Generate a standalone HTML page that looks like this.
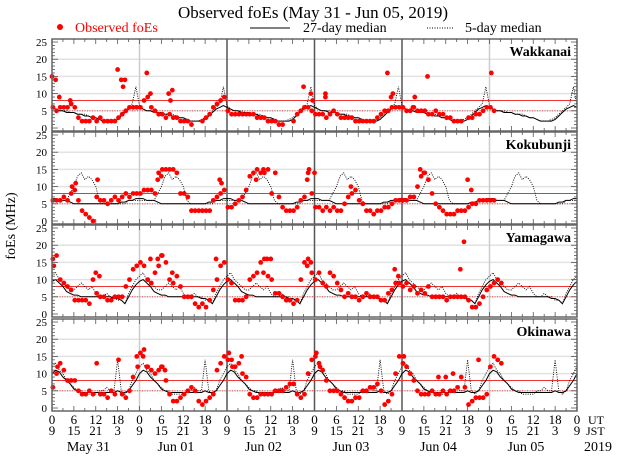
<!DOCTYPE html>
<html><head><meta charset="utf-8"><style>
body{margin:0;background:#fff;}
svg{display:block;font-family:"Liberation Serif",serif;}
</style></head><body>
<svg id="c" width="640" height="457" viewBox="0 0 640 457">
<text x="313" y="18" font-size="17" text-anchor="middle">Observed foEs (May 31 - Jun 05, 2019)</text>
<g>
<circle cx="60" cy="27" r="3" fill="#f00"/>
<text x="75" y="32" font-size="14" fill="#f00">Observed foEs</text>
<line x1="250" y1="28" x2="290" y2="28" stroke="#000" stroke-width="1"/>
<text x="303" y="32" font-size="14">27-day median</text>
<line x1="427" y1="28" x2="454" y2="28" stroke="#000" stroke-width="1" stroke-dasharray="1,1.5"/>
<text x="465" y="32" font-size="14">5-day median</text>
</g>
<text transform="translate(15,226) rotate(-90)" font-size="14" text-anchor="middle">foEs (MHz)</text>
<text x="588" y="424" font-size="12">UT</text>
<text x="586" y="435" font-size="12">JST</text>
<text x="598" y="451" font-size="14" text-anchor="middle">2019</text>
</svg>
<script>
const stations = ["Wakkanai","Kokubunji","Yamagawa","Okinawa"];
const dayLabels = ["May 31","Jun 01","Jun 02","Jun 03","Jun 04","Jun 05"];
const utTicks = [0,6,12,18];
const jstTicks = [9,15,21,3];
const yTicks = [0,5,10,15,20,25];

const obsWakkanai = [6,5,6,6,6,7,6,3,2,2,2,3,2,3,2,2,2,2,3,4,5,6,6,6,
6,8,9,6,5,4,4,3,4,3,3,2,2,2,1,null,null,2,3,4,6,7,8,9,
5,4,4,4,4,4,4,4,3,3,3,2,2,2,1,1,null,null,2,4,5,6,6,5,
4,4,4,3,4,5,4,3,3,3,3,2,2,2,2,2,2,3,4,5,5,6,6,6,
6,5,5,6,5,5,5,4,4,5,4,4,3,3,2,2,2,null,3,3,4,4,5,6,
6,5,null,null];
const spkWakkanai = [[0,15],[1,14],[2,9],[5,8],[18,17],[19,14],[20,14],[19.5,12],[26,16],[27,10],[32,10],[33,11],[32.5,8],[69,12],[71,10],[71.5,8],[75,10],[75,9],[92,16],[93,9],[93.5,10],[99,6],[99.5,9],[103,15],[120.5,16]];
const obsKokubunji = [6,6,6,7,6,8,9,6,3,2,1,0,7,6,6,5,6,7,6,7,8,7,8,8,
8,9,9,9,8,14,15,15,15,15,14,8,8,7,3,3,3,3,3,3,6,7,8,9,
4,4,5,6,7,9,13,14,15,14,14,15,8,14,7,4,3,3,3,4,6,7,14,8,
4,4,3,4,3,4,3,3,5,7,8,9,6,5,3,3,2,3,3,4,4,5,6,6,
6,6,7,7,10,13,14,12,8,5,4,3,2,2,2,3,3,3,4,5,5,6,6,6,
6,6,null,null];
const spkKokubunji = [[12.5,12],[5.5,10],[6.5,11],[46,12],[46.5,11],[29,12],[30,13],[56,12],[58,15],[70,12],[70.5,15],[72,14],[82,10],[101,15],[102,14],[114,12],[115,9]];
const obsYamagawa = [16,17,10,9,8,7,4,4,4,4,3,10,6,5,5,4,4,5,5,5,8,10,13,14,
15,14,10,9,12,14,17,15,10,9,11,8,5,5,5,3,2,3,2,4,7,10,14,15,
10,9,4,4,4,5,10,11,12,15,16,11,10,6,6,5,4,4,3,4,10,15,16,12,
10,12,9,8,12,11,9,7,5,6,5,5,4,5,6,5,5,5,4,4,6,7,9,9,
8,9,7,8,6,7,6,8,5,5,5,5,4,5,5,5,5,5,4,2,2,3,5,7,
8,9,10,9];
const spkYamagawa = [[0.5,14],[12,12],[13,11],[27,16],[29,16],[30,17],[33,12],[45,16],[58,12],[59,16],[60,16],[70,14],[71,15],[94,13],[95,11],[112,13],[113,21]];
const obsOkinawa = [6,10,13,11,8,8,8,5,4,4,5,4,13,4,4,3,5,4,14,4,3,5,9,15,
16,17,12,11,10,11,12,8,4,2,2,3,4,5,6,5,2,1,2,3,4,11,13,15,
14,14,12,13,10,9,4,3,3,4,4,4,4,5,5,5,6,7,7,4,3,4,10,14,
15,13,11,8,5,5,5,4,3,2,2,3,3,5,5,6,6,7,5,1,2,4,10,15,
13,12,10,8,5,4,4,4,5,4,4,5,4,5,5,6,9,6,1,2,3,3,3,4,
12,15,14,13];
const spkOkinawa = [[1.5,12],[23.5,12],[25,15],[26,12],[30,12],[31,11],[48.5,16],[49.5,12],[52,15],[72.5,16],[73.5,12],[96.5,15],[106,9],[108,9],[110,10],[117,14]];

const m27Wakkanai = [6,5.5,5,5,4.5,4.5,4.5,4,4,3.5,3.5,3,3,2.5,2,2,2,2,2.5,3.5,4.5,5.5,6,6.5];
const m5Wakkanai = [6.5,5.5,5,5,5,4.5,4.5,4,4,4,3.5,3,3,2.5,2,2,2,2.5,3,4,5,6,7,12];
const m27Kokubunji = [6.5,6.5,6,6,6,5.5,5,5,5,5,5,5,5,5,5,5,5,5,5,5.5,5.5,6,6,6.5];
const m5Kokubunji = [6,6,6,6,6,8,10,13,14,12,13,12,10,6,5,5,5,5,5,5,5,6,6,6];
const m27Yamagawa = [9.5,10,9,8,6.5,6,5.5,5.5,5,5,5,5,5,5,5,5,5,4.5,4.5,4,3,5,7,8.5];
const m5Yamagawa = [11,12,10,9,8,7,7,8,9,8,7,8,6,5,5,6,5,5,4,4,3,6,8,10];
const m27Okinawa = [10,11,10.5,9,8,7,5.5,5,4.5,4.5,4.5,4.5,4.5,4.5,4.5,4.5,4.5,4.5,5,4.5,4.5,5,6.5,8];
const m5Okinawa = [12,13,11,10,8,7,6,5,5,4,4,4,4,5,5,6,5,5,14,5,4,5,8,10];

const OBS=[obsWakkanai,obsKokubunji,obsYamagawa,obsOkinawa];
const SPK=[spkWakkanai,spkKokubunji,spkYamagawa,spkOkinawa];
const M27=[m27Wakkanai,m27Kokubunji,m27Yamagawa,m27Okinawa];
const M5=[m5Wakkanai,m5Kokubunji,m5Yamagawa,m5Okinawa];

const NS="http://www.w3.org/2000/svg";
const svg=document.getElementById('c');
const X0=52,X1=577,DAYS=6,TOPS=[39,132,225,319],PH=92;
function xs(h){return X0+h*(X1-X0)/(DAYS*24);}
function ys(p,v){return TOPS[p]+89-v*3.44;}
function mk(tag,attrs,parent){const e=document.createElementNS(NS,tag);for(const k in attrs)e.setAttribute(k,attrs[k]);(parent||svg).appendChild(e);return e;}

stations.forEach((name,p)=>{
  const g=mk('g',{});
  
  
  const top=TOPS[p];
  [5,10,15,20].forEach(v=>{const l=mk('line',{x1:X0,x2:X1,y1:ys(p,v),y2:ys(p,v),stroke:'#e2e2e2','stroke-width':1.5},g);
    });
  for(let d=1;d<DAYS;d++){const dark=(d>=2&&d<=4);const l=mk('line',{x1:xs(d*24),x2:xs(d*24),y1:top,y2:top+PH,stroke:dark?'#555':'#ccc','stroke-width':1.5},g);
    }
  const r8=mk('line',{x1:X0,x2:X1,y1:ys(p,8),y2:ys(p,8),stroke:'#e33','stroke-width':1},g);
  
  const r5=mk('line',{x1:X0,x2:X1,y1:ys(p,5),y2:ys(p,5),stroke:'#e33','stroke-width':0.8,'stroke-dasharray':'1,1.5'},g);
  
  [[M27[p],'',1,'median-27day-line'],[M5[p],'1,1.3',0.9,'median-5day-line']].forEach(([arr,dash,w,nm])=>{
    let pts=[];for(let h=0;h<=DAYS*24;h++){pts.push(xs(h).toFixed(1)+','+ys(p,arr[h%24]).toFixed(1));}
    const pl=mk('polyline',{points:pts.join(' '),fill:'none',stroke:'#000','stroke-width':w},g);
    if(dash)pl.setAttribute('stroke-dasharray',dash);
    
  });
  OBS[p].forEach((v,h)=>{if(v===null)return;const c=mk('circle',{cx:xs(h+0.25),cy:ys(p,v),r:2.4,fill:'#f00'},g);
    });
  SPK[p].forEach(([h,v])=>{const c=mk('circle',{cx:xs(h),cy:ys(p,v),r:2.4,fill:'#f00'},g);
    });
  const fr=mk('rect',{x:X0,y:top,width:X1-X0,height:PH,fill:'none',stroke:'#666','stroke-width':1.5},g);
  
  for(let v=0;v<=25;v++){const len=v%5===0?6:3;
    mk('line',{x1:X0,x2:X0+len,y1:ys(p,v),y2:ys(p,v),stroke:'#555','stroke-width':0.8},g);
    mk('line',{x1:X1,x2:X1-len,y1:ys(p,v),y2:ys(p,v),stroke:'#555','stroke-width':0.8},g);}
  yTicks.forEach(v=>{const t=mk('text',{x:47,y:ys(p,v)+4,'font-size':11,'text-anchor':'end'},g);t.textContent=v;
    });
  for(let h=0;h<=DAYS*24;h+=3){const len=h%6===0?5:3;
    mk('line',{x1:xs(h),x2:xs(h),y1:top,y2:top+len,stroke:'#555','stroke-width':0.8},g);
    mk('line',{x1:xs(h),x2:xs(h),y1:top+PH,y2:top+PH-len,stroke:'#555','stroke-width':0.8},g);}
  const st=mk('text',{x:571,y:top+17,'font-size':14,'font-weight':'bold','text-anchor':'end'},g);st.textContent=name;
  
});
for(let d=0;d<=DAYS;d++){
  utTicks.forEach((u,i)=>{if(d===DAYS&&i>0)return;const x=xs(d*24+u);
    const a=mk('text',{x:x,y:424,'font-size':13,'text-anchor':'middle'});a.textContent=u;
    
    const b=mk('text',{x:x,y:435,'font-size':13,'text-anchor':'middle'});b.textContent=jstTicks[i];
    });
}
dayLabels.forEach((l,d)=>{const t=mk('text',{x:xs(d*24+10),y:451,'font-size':14,'text-anchor':'middle'});t.textContent=l;
  });
</script>
</body></html>
